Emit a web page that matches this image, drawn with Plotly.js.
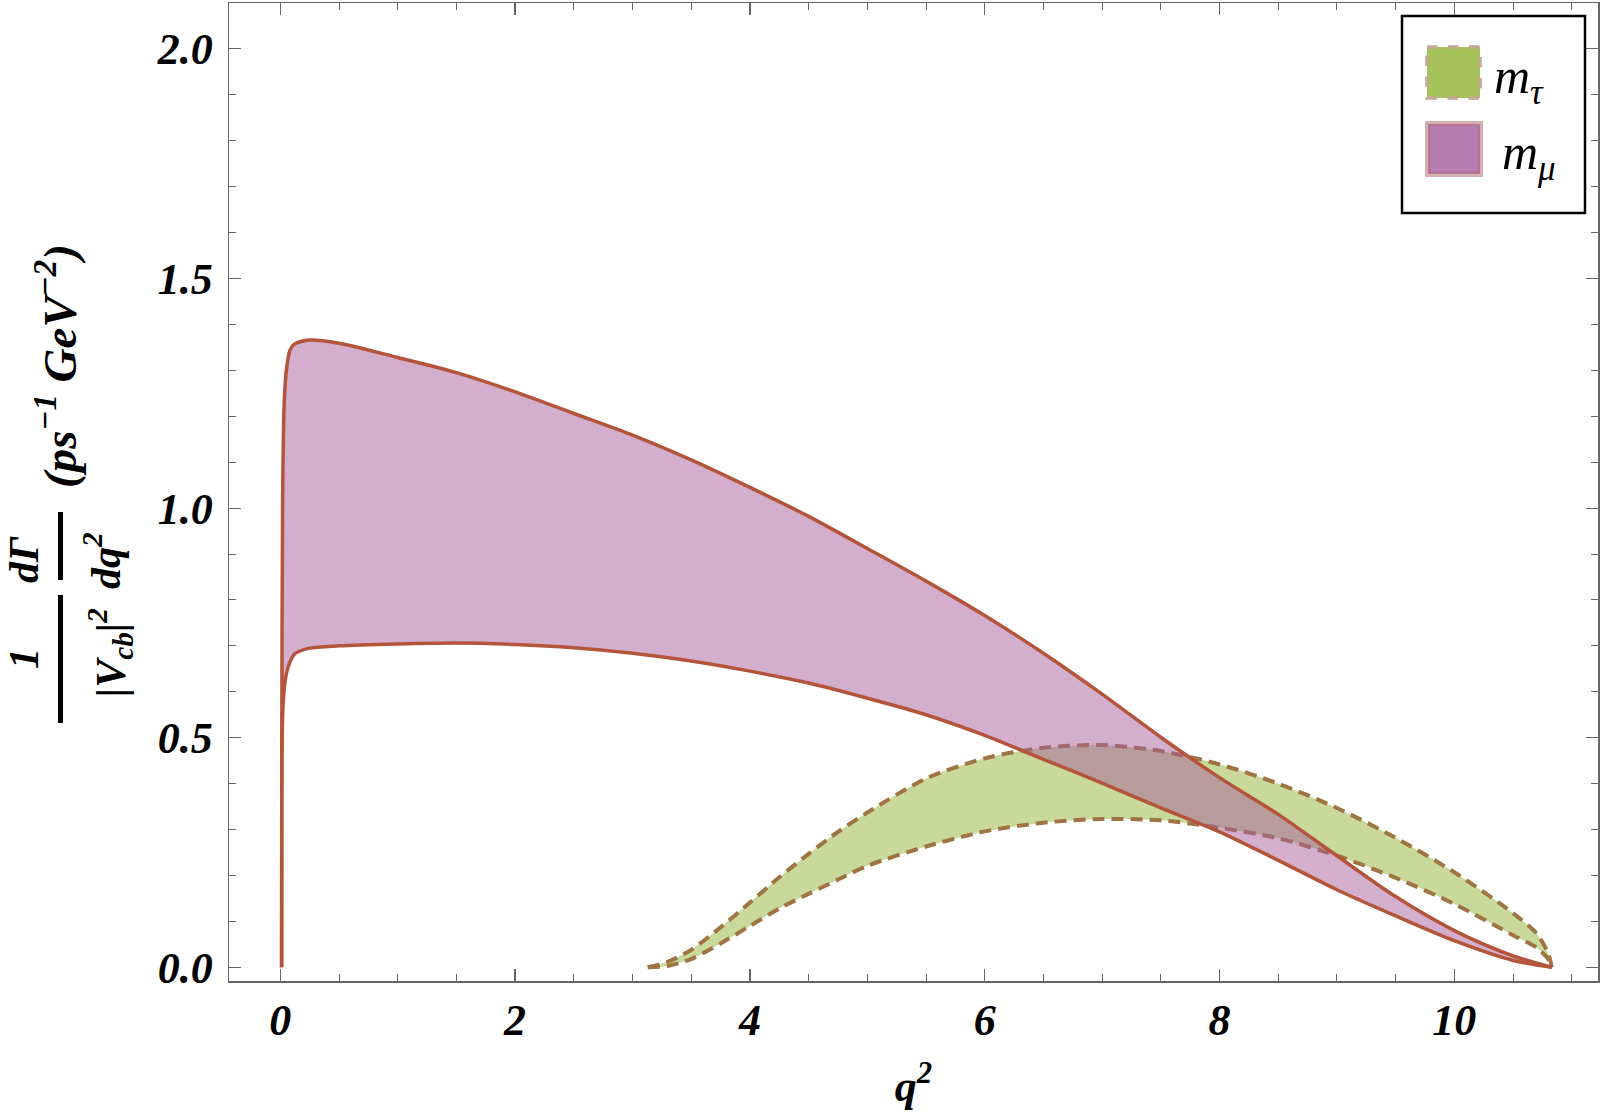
<!DOCTYPE html>
<html>
<head>
<meta charset="utf-8">
<script src="https://cdn.plot.ly/plotly-3.0.1.min.js"></script>
<style>html,body{margin:0;padding:0;background:#fff;}#chart{width:1600px;height:1120px;}</style>
</head>
<body>
<div id="chart"></div>
<script>
// ---- data ----
const muUpperX = [0.011, 0.013, 0.02, 0.034, 0.055, 0.083, 0.12, 0.25, 0.5, 1.0, 1.5, 2.0, 2.5, 3.0, 3.5, 4.0, 4.5, 5.0, 5.5, 6.0, 6.5, 7.0, 7.5, 8.0, 8.5, 9.0, 9.5, 10.0, 10.5, 10.83];
const muUpperY = [0, 0.5, 1.02, 1.235, 1.308, 1.344, 1.357, 1.366, 1.359, 1.328, 1.295, 1.253, 1.206, 1.159, 1.105, 1.045, 0.982, 0.912, 0.841, 0.766, 0.684, 0.595, 0.501, 0.413, 0.333, 0.243, 0.154, 0.080, 0.025, 0];
const muLowerX = [0.011, 0.012, 0.014, 0.02, 0.026, 0.045, 0.068, 0.12, 0.25, 0.5, 1.0, 1.5, 2.0, 2.5, 3.0, 3.5, 4.0, 4.5, 5.0, 5.5, 6.0, 6.5, 7.0, 7.5, 8.0, 8.5, 9.0, 9.5, 10.0, 10.5, 10.83];
const muLowerY = [0, 0.3, 0.47, 0.55, 0.583, 0.63, 0.655, 0.682, 0.695, 0.700, 0.704, 0.706, 0.703, 0.696, 0.684, 0.667, 0.645, 0.619, 0.586, 0.550, 0.505, 0.453, 0.401, 0.347, 0.295, 0.233, 0.169, 0.112, 0.058, 0.015, 0];
const tauUpperX = [3.13, 3.3, 3.5, 3.75, 4.0, 4.25, 4.5, 4.75, 5.0, 5.5, 6.0, 6.5, 7.0, 7.5, 8.0, 8.5, 9.0, 9.5, 10.0, 10.5, 10.7, 10.8, 10.83];
const tauUpperY = [0, 0.012, 0.038, 0.087, 0.141, 0.196, 0.247, 0.295, 0.337, 0.411, 0.455, 0.478, 0.484, 0.471, 0.442, 0.400, 0.347, 0.282, 0.207, 0.118, 0.074, 0.030, 0];
const tauLowerX = [3.13, 3.3, 3.5, 3.75, 4.0, 4.25, 4.5, 4.75, 5.0, 5.5, 6.0, 6.5, 7.0, 7.5, 8.0, 8.5, 9.0, 9.5, 10.0, 10.5, 10.7, 10.8, 10.83];
const tauLowerY = [0, 0.003, 0.018, 0.052, 0.090, 0.128, 0.160, 0.191, 0.221, 0.263, 0.296, 0.315, 0.323, 0.320, 0.304, 0.281, 0.243, 0.195, 0.138, 0.070, 0.043, 0.018, 0];
const xTickVals = [0, 2, 4, 6, 8, 10];
const yTickVals = [0, 0.5, 1.0, 1.5, 2.0];
const yTickText = ["0.0", "0.5", "1.0", "1.5", "2.0"];
const legendLabels = ["<i>m</i><sub><i>τ</i></sub>", "<i>m</i><sub><i>μ</i></sub>"];

// ---- styling ----
const SOLID = '#B4553B';
const DASHC = '#9E7442';
const GREEN_FILL = '#C8D99B';
const PURPLE_FILL = 'rgba(167,93,155,0.5)';
const FONT = "'Liberation Serif', 'Times New Roman', serif";

const band = (ux, uy, lx, ly) => ({
  x: ux.concat(lx.slice().reverse()),
  y: uy.concat(ly.slice().reverse())
});
const tauBand = band(tauUpperX, tauUpperY, tauLowerX, tauLowerY);
const muBand = band(muUpperX, muUpperY, muLowerX, muLowerY);

const traces = [
  {x: tauBand.x, y: tauBand.y, type: 'scatter', mode: 'lines', fill: 'toself', fillcolor: GREEN_FILL,
   line: {width: 0, shape: 'spline', smoothing: 0.8}, hoverinfo: 'skip', name: 'm_τ'},
  {x: tauUpperX, y: tauUpperY, type: 'scatter', mode: 'lines',
   line: {color: DASHC, width: 4, dash: '12px,7px', shape: 'spline', smoothing: 0.8}, name: 'm_τ upper'},
  {x: tauLowerX, y: tauLowerY, type: 'scatter', mode: 'lines',
   line: {color: DASHC, width: 4, dash: '12px,7px', shape: 'spline', smoothing: 0.8}, name: 'm_τ lower'},
  {x: muBand.x, y: muBand.y, type: 'scatter', mode: 'lines', fill: 'toself', fillcolor: PURPLE_FILL,
   line: {width: 0, shape: 'spline', smoothing: 0.8}, hoverinfo: 'skip', name: 'm_μ'},
  {x: muUpperX, y: muUpperY, type: 'scatter', mode: 'lines',
   line: {color: SOLID, width: 3.5, shape: 'spline', smoothing: 0.8}, name: 'm_μ upper'},
  {x: muLowerX, y: muLowerY, type: 'scatter', mode: 'lines',
   line: {color: SOLID, width: 3.5, shape: 'spline', smoothing: 0.8}, name: 'm_μ lower'}
];

// plot area in pixels
const L = 229, R = 1598, T = 3, B = 981;
const PX = p => (p - L) / (R - L);
const PY = p => (B - p) / (B - T);

const tfont = {family: FONT, size: 44, color: '#000', weight: 'bold', style: 'italic'};
const afont = s => ({family: FONT, size: s, color: '#000', weight: 'bold', style: 'italic'});

const ann = (text, px, py, size) => ({
  text: text, xref: 'paper', yref: 'paper', x: PX(px), y: PY(py),
  xanchor: 'center', yanchor: 'middle', textangle: -90, showarrow: false, font: afont(size)
});

const annotations = [
  ann('1', 24, 659, 42),
  ann('|V<sub>cb</sub>|<sup>2</sup>', 110, 653, 42),
  ann('dΓ', 24, 560, 42),
  ann('dq<sup>2</sup>', 102, 561, 42),
  ann('(ps<sup>−1</sup> GeV<sup>−2</sup>)', 57, 366, 47),
  {text: legendLabels[0], xref: 'paper', yref: 'paper', x: PX(1492), y: PY(80), xanchor: 'left', yanchor: 'middle',
   showarrow: false, font: {family: FONT, size: 50, color: '#000', style: 'italic'}},
  {text: legendLabels[1], xref: 'paper', yref: 'paper', x: PX(1500), y: PY(156), xanchor: 'left', yanchor: 'middle',
   showarrow: false, font: {family: FONT, size: 50, color: '#000', style: 'italic'}}
];

const shapes = [
  {type: 'line', xref: 'paper', yref: 'paper', x0: PX(60.5), x1: PX(60.5), y0: PY(595), y1: PY(723), line: {color: '#000', width: 5}},
  {type: 'line', xref: 'paper', yref: 'paper', x0: PX(60.5), x1: PX(60.5), y0: PY(512), y1: PY(580), line: {color: '#000', width: 5}},
  {type: 'rect', xref: 'paper', yref: 'paper', x0: PX(1402), x1: PX(1585), y0: PY(16), y1: PY(213), line: {color: '#000', width: 2.5}, fillcolor: '#fff'},
  {type: 'rect', xref: 'paper', yref: 'paper', x0: PX(1427), x1: PX(1480), y0: PY(47), y1: PY(98), line: {color: '#C4A892', width: 3.5, dash: 'dash'}, fillcolor: '#A6C35B'},
  {type: 'rect', xref: 'paper', yref: 'paper', x0: PX(1427), x1: PX(1481), y0: PY(123), y1: PY(175), line: {color: '#D6AFB0', width: 4}, fillcolor: '#B77DB0'},
  {type: 'rect', xref: 'paper', yref: 'paper', x0: PX(1429), x1: PX(1479), y0: PY(125), y1: PY(173), line: {color: '#B06A86', width: 1.5}, fillcolor: 'rgba(0,0,0,0)'}
];

const axisCommon = {
  showline: true, linecolor: '#666', linewidth: 1.5, mirror: 'ticks',
  ticks: 'inside', ticklen: 12, tickwidth: 1.2, tickcolor: '#666',
  showgrid: false, zeroline: false, tickfont: tfont, fixedrange: true
};

const layout = {
  width: 1600, height: 1120,
  margin: {l: L, r: 1600 - R, t: T, b: 1120 - B, pad: 0},
  paper_bgcolor: '#fff', plot_bgcolor: '#fff',
  showlegend: false,
  xaxis: Object.assign({}, axisCommon, {
    range: [-0.437, 11.224], tickvals: xTickVals, ticktext: xTickVals.map(String),
    ticklabelstandoff: 0,
    minor: {dtick: 0.5, tick0: 0, ticks: 'inside', ticklen: 7, tickcolor: '#666', tickwidth: 1, showgrid: false},
    title: {text: 'q<sup>2</sup>', font: tfont, standoff: 26}
  }),
  yaxis: Object.assign({}, axisCommon, {
    range: [-0.0298, 2.0999], tickvals: yTickVals, ticktext: yTickText,
    ticklabelstandoff: 6,
    minor: {dtick: 0.1, tick0: 0, ticks: 'inside', ticklen: 7, tickcolor: '#666', tickwidth: 1, showgrid: false}
  }),
  annotations: annotations,
  shapes: shapes
};

Plotly.newPlot('chart', traces, layout, {displayModeBar: false, staticPlot: true});
</script>
</body>
</html>
